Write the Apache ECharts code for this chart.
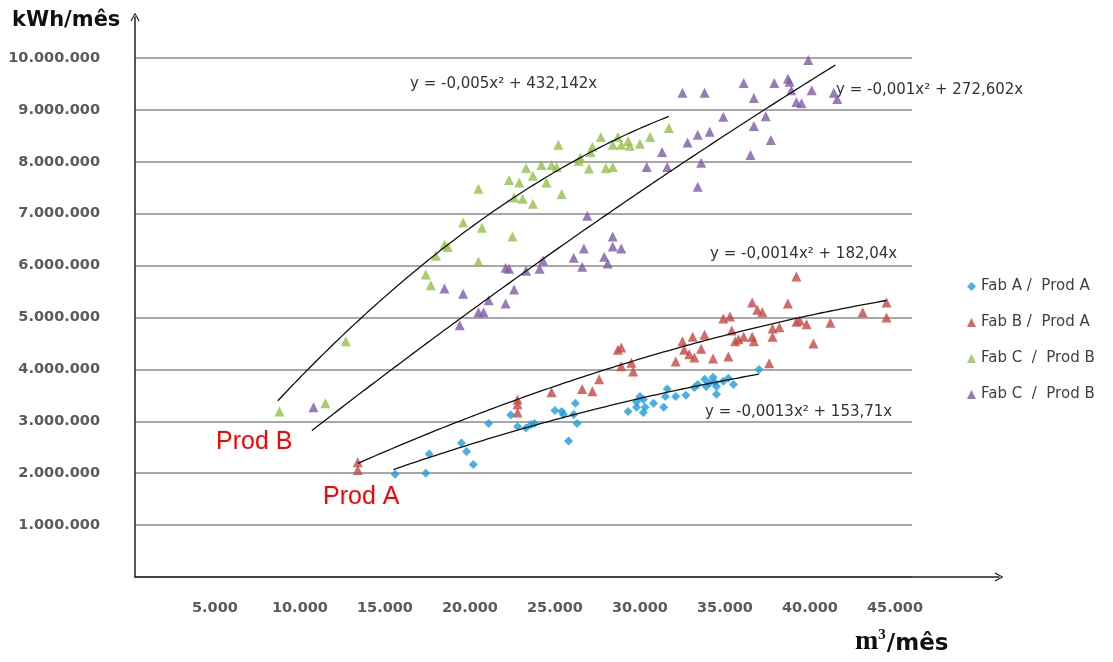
<!DOCTYPE html>
<html><head><meta charset="utf-8">
<script src="https://cdn.jsdelivr.net/npm/echarts@6/dist/echarts.min.js"></script>
<style>html,body{margin:0;padding:0;background:#fff}#c{width:1113px;height:662px}</style>
</head><body><div id="c"></div>
<script>
// ---------- DATA ----------
const seriesNames = ['Fab A /  Prod A', 'Fab B /  Prod A', 'Fab C  /  Prod B', 'Fab C  /  Prod B\u00a0'];

const fabA_prodA = [
 [15600,1980000],[17400,2000000],[17600,2370000],[19500,2580000],[19800,2420000],[20200,2170000],
 [21100,2960000],[22400,3120000],[22800,2900000],[23300,2870000],[23600,2940000],[23800,2960000],
 [25000,3210000],[25400,3190000],[25500,3130000],[25800,2620000],[26200,3350000],[26300,2960000],
 [26100,3130000],[29300,3190000],[29800,3370000],[30000,3480000],[30200,3420000],[29800,3270000],
 [30300,3270000],[30200,3170000],[30800,3350000],[31400,3270000],[31500,3480000],[31600,3620000],
 [32100,3480000],[32700,3500000],[33200,3650000],[33400,3710000],[33800,3810000],[33900,3670000],
 [34100,3740000],[34300,3850000],[34400,3750000],[34500,3670000],[34500,3520000],[34900,3770000],
 [35200,3830000],[35500,3710000],[37000,4000000]
];
const fabB_prodA = [
 [13400,2210000],[13400,2060000],[22800,3420000],[22800,3330000],[22800,3170000],[24800,3560000],
 [26600,3620000],[27200,3580000],[27600,3810000],[28700,4380000],[28900,4420000],[28900,4060000],
 [29500,4130000],[29600,3960000],[32100,4150000],[32500,4540000],[32600,4380000],[33100,4630000],
 [32900,4290000],[33200,4230000],[33600,4400000],[33800,4670000],[34300,4210000],[34900,4980000],
 [35300,5020000],[35200,4250000],[35400,4750000],[35600,4540000],[35800,4580000],[36100,4630000],
 [36600,4630000],[36700,4540000],[36600,5290000],[36900,5150000],[37200,5100000],[37600,4120000],
 [37800,4630000],[37800,4790000],[38200,4810000],[38700,5270000],[39200,5790000],[39200,4920000],
 [39400,4940000],[39800,4870000],[40200,4500000],[41200,4900000],[43100,5100000],[44500,5290000],
 [44500,5000000]
];
const fabC_prodB_green = [
 [8800,3190000],[11500,3350000],[12700,4540000],[17400,5830000],[17700,5620000],[18000,6190000],
 [18500,6400000],[18700,6360000],[19600,6830000],[20500,6080000],[20500,7480000],[20700,6730000],
 [22300,7650000],[22500,6560000],[22600,7310000],[22900,7600000],[23100,7290000],[23700,7190000],
 [23300,7880000],[23700,7730000],[24200,7940000],[24500,7600000],[24800,7940000],[25100,7900000],
 [25200,8330000],[25400,7380000],[26400,8020000],[26500,8080000],[27000,7870000],[27100,8190000],
 [27200,8290000],[27700,8480000],[28000,7880000],[28400,7900000],[28400,8330000],[28700,8480000],
 [28900,8330000],[29300,8400000],[29400,8310000],[30000,8350000],[30600,8480000],[31700,8650000]
];
const fabC_prodB_purple = [
 [10800,3270000],[18500,5560000],[19400,4850000],[19600,5460000],[20500,5100000],[20800,5100000],
 [21100,5330000],[22100,5960000],[22100,5270000],[22300,5940000],[22600,5540000],[23300,5900000],
 [24100,5940000],[24300,6100000],[26100,6150000],[26600,5980000],[26700,6330000],[26900,6960000],
 [27900,6170000],[28100,6040000],[28400,6560000],[28400,6370000],[28900,6330000],[30400,7900000],
 [31300,8190000],[31600,7900000],[32500,9330000],[32800,8370000],[33400,8520000],[33400,7520000],
 [33600,7980000],[33800,9330000],[34100,8580000],[34900,8870000],[36100,9520000],[36500,8130000],
 [36700,9230000],[36700,8690000],[37400,8880000],[37700,8420000],[37900,9520000],[38700,9600000],
 [38800,9540000],[38900,9380000],[39200,9150000],[39500,9130000],[39900,9960000],[40100,9380000],
 [41400,9330000],[41600,9210000]
];

const xTickValues = [5000,10000,15000,20000,25000,30000,35000,40000,45000];
// trend lines y = a*x^2 + b*x  (order: Fab A, Fab B, Fab C green, Fab C purple)
const trendCoefs  = [[-0.0013,153.71],[-0.0014,182.04],[-0.0048,432.142],[-0.00084,272.602]];
const trendRanges = [[15500,37000],[13400,44500],[8700,31700],[10700,41500]];
const trendLabels = ['y = -0,0013x² + 153,71x','y = -0,0014x² + 182,04x','y = -0,005x² + 432,142x','y = -0,001x² + 272,602x'];
const groupLabels = ['Prod B','Prod A'];

// ---------- CHART ----------
const colors = ['#1c9ce0','#c4463f','#93c047','#7f5aa8'];
const symbols = ['diamond','triangle','triangle','triangle'];
const seriesData = [fabA_prodA, fabB_prodA, fabC_prodB_green, fabC_prodB_purple];
const fmt = v => String(v).replace(/\B(?=(\d{3})+(?!\d))/g, '.');

function trendPoints(coef, range) {
  const pts = [];
  const step = 250;
  for (let x = range[0]; x < range[1]; x += step) pts.push([x, coef[0]*x*x + coef[1]*x]);
  pts.push([range[1], coef[0]*range[1]*range[1] + coef[1]*range[1]]);
  return pts;
}

const chevron = 'path://M0,9 L5,0 L10,9 L9,10 L5,2.3 L1,10 Z';
const series = [];
seriesData.forEach((d, i) => {
  series.push({
    name: seriesNames[i], type: 'scatter', data: d,
    symbol: symbols[i], symbolSize: i === 0 ? 9 : 10,
    itemStyle: { color: colors[i] }, xAxisIndex: 0, yAxisIndex: 0, z: 2
  });
});
trendCoefs.forEach((c, i) => {
  series.push({
    name: 'trend' + i, type: 'line', data: trendPoints(c, trendRanges[i]),
    showSymbol: false, symbol: 'none', smooth: false, silent: true,
    lineStyle: { color: '#111', width: 1.3 }, xAxisIndex: 0, yAxisIndex: 0, z: 3
  });
});

const labelFont = { fontFamily: 'DejaVu Sans', fontSize: 14.5, fontWeight: 'bold', color: '#5a5a5a' };
const eqStyle = { fontFamily: 'DejaVu Sans', fontSize: 15, fill: '#333' };
const eqPos = [[705, 412], [710, 254], [410, 84], [836, 90]];

const chart = echarts.init(document.getElementById('c'), null, { renderer: 'canvas' });
chart.setOption({
  animation: false,
  backgroundColor: '#fff',
  grid: [
    { left: 135, right: 201, top: 58, bottom: 85, containLabel: false },
    { left: 135, right: 114, top: 17, bottom: 85, containLabel: false }
  ],
  xAxis: [
    { type: 'value', gridIndex: 0, min: 300, max: 46000,
      axisLine: { show: false }, axisTick: { show: false }, splitLine: { show: false },
      axisLabel: Object.assign({ customValues: xTickValues, margin: 24, formatter: fmt }, labelFont) },
    { type: 'value', gridIndex: 1, min: 0, max: 1,
      axisLine: { show: true, onZero: false, symbol: ['none', chevron], symbolSize: [13, 9],
        lineStyle: { color: '#222', width: 1.5 } },
      axisTick: { show: false }, axisLabel: { show: false }, splitLine: { show: false } }
  ],
  yAxis: [
    { type: 'value', gridIndex: 0, min: 0, max: 10000000, interval: 1000000,
      axisLine: { show: false }, axisTick: { show: false },
      splitLine: { show: true, lineStyle: { color: '#a8a8a8', width: 1.8 } },
      axisLabel: Object.assign({ margin: 35, showMinLabel: false, formatter: fmt }, labelFont) },
    { type: 'value', gridIndex: 1, min: 0, max: 1,
      axisLine: { show: true, onZero: false, symbol: ['none', chevron], symbolSize: [13, 9],
        lineStyle: { color: '#222', width: 1.5 } },
      axisTick: { show: false }, axisLabel: { show: false }, splitLine: { show: false } }
  ],
  legend: {
    orient: 'vertical', left: 962, top: 274, itemWidth: 9, itemHeight: 9, itemGap: 21,
    data: seriesNames,
    textStyle: { fontFamily: 'DejaVu Sans', fontSize: 15, color: '#404040' }
  },
  graphic: [
    { type: 'text', left: 12, top: 10, style: { text: 'kWh/mês', fontFamily: 'DejaVu Sans', fontWeight: 'bold', fontSize: 21, fill: '#111' } },
    { type: 'text', left: 855, top: 628, style: {
        text: '{m|m}{sup|3}{s|/mês}', fill: '#111',
        rich: {
          m: { fontFamily: 'Liberation Serif', fontWeight: 'bold', fontSize: 28, verticalAlign: 'bottom' },
          sup: { fontFamily: 'Liberation Serif', fontWeight: 'bold', fontSize: 15, verticalAlign: 'top', padding: [0, 1, 0, 0] },
          s: { fontFamily: 'DejaVu Sans', fontWeight: 'bold', fontSize: 23, verticalAlign: 'bottom' }
        } } },
    { type: 'text', x: 216, y: 442, style: { text: groupLabels[0], fontFamily: 'Liberation Sans', fontSize: 25, fill: '#ff0000', verticalAlign: 'middle' } },
    { type: 'text', x: 323, y: 497, style: { text: groupLabels[1], fontFamily: 'Liberation Sans', fontSize: 25, fill: '#ff0000', verticalAlign: 'middle' } }
  ].concat(trendLabels.map((t, i) => ({
    type: 'text', x: eqPos[i][0], y: eqPos[i][1],
    style: Object.assign({ text: t, verticalAlign: 'middle' }, eqStyle)
  }))),
  series: series
});
</script>
</body></html>
